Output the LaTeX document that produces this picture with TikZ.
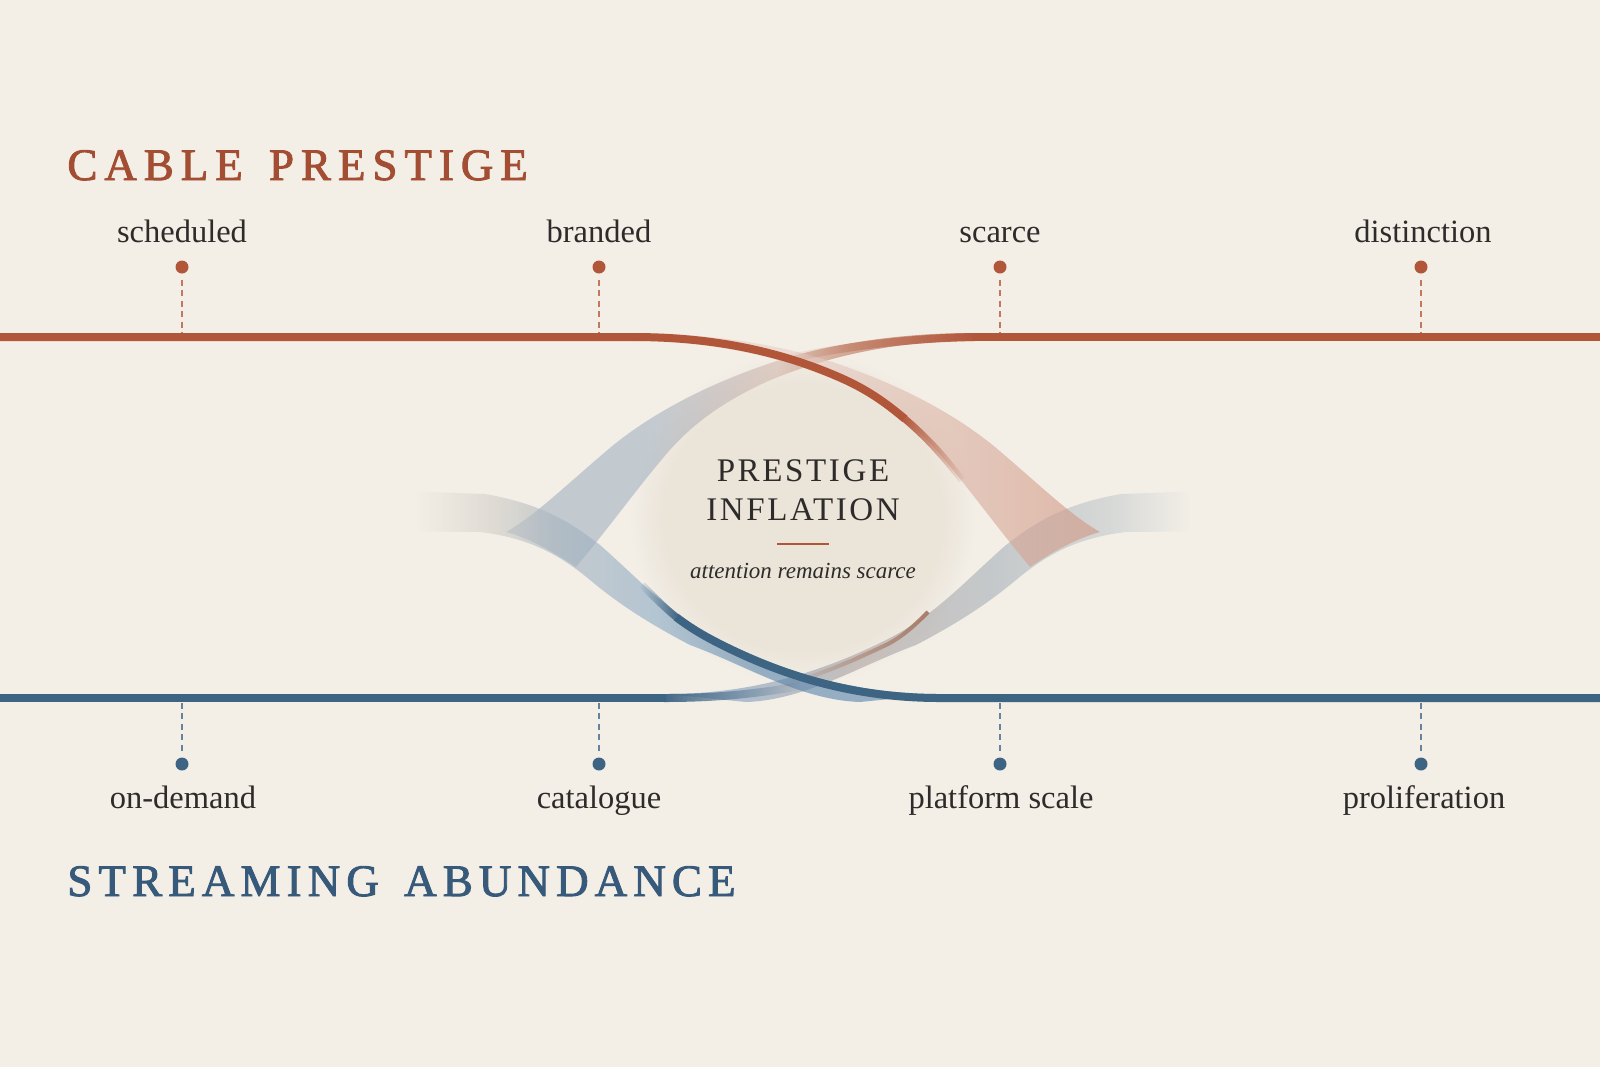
\documentclass[tikz,border=0pt]{standalone}
\usepackage{fontspec}
\setmainfont{Liberation Serif}
\newfontfamily\titlefont[LetterSpace=15.5,FakeBold=2]{Liberation Serif}
\newfontfamily\titlefontb[LetterSpace=13.6,FakeBold=2]{Liberation Serif}
\newfontfamily\capsfont[LetterSpace=8]{Liberation Serif}
\usetikzlibrary{fadings}
\definecolor{bgc}{RGB}{243,239,231}
\definecolor{lensc}{RGB}{235,228,217}
\definecolor{redc}{RGB}{178,86,58}
\definecolor{redt}{RGB}{163,78,50}
\definecolor{bluec}{RGB}{62,100,132}
\definecolor{bluet}{RGB}{55,90,122}
\definecolor{inkc}{RGB}{46,44,42}
\definecolor{brownc}{RGB}{168,124,104}
% band colours
\definecolor{r1a}{RGB}{231,207,199}
\definecolor{r1b}{RGB}{218,174,159}
\definecolor{r1c}{RGB}{208,147,126}
\definecolor{r2a}{RGB}{162,178,194}
\definecolor{r2b}{RGB}{182,178,182}
\definecolor{r2c}{RGB}{211,184,173}
\definecolor{r2d}{RGB}{188,116,88}
\definecolor{r2e}{RGB}{180,95,68}
\definecolor{b2a}{RGB}{208,205,198}
\definecolor{b2b}{RGB}{168,180,190}
\definecolor{b2c}{RGB}{138,169,196}
\definecolor{b2d}{RGB}{88,132,171}
\definecolor{b1a}{RGB}{130,157,188}
\definecolor{b1b}{RGB}{171,161,159}
\definecolor{b1c}{RGB}{166,176,185}
\definecolor{b1d}{RGB}{196,202,205}
\pgfdeclarehorizontalshading{rone}{100bp}{color(0bp)=(r1a); color(25bp)=(r1a); color(42bp)=(r1a); color(60bp)=(r1b); color(75bp)=(r1c); color(100bp)=(r1c)}
\pgfdeclarehorizontalshading{rtwo}{100bp}{color(0bp)=(r2a); color(40bp)=(r2a); color(46bp)=(r2b); color(54bp)=(r2c); color(62bp)=(r2d); color(75bp)=(r2e); color(100bp)=(r2e)}
\pgfdeclarehorizontalshading{btwo}{100bp}{color(0bp)=(bgc); color(29bp)=(bgc); color(36bp)=(b2a); color(41bp)=(b2b); color(50bp)=(b2c); color(59bp)=(b2d); color(100bp)=(b2d)}
\pgfdeclarehorizontalshading{bone}{100bp}{color(0bp)=(b1a); color(32bp)=(b1a); color(42bp)=(b1b); color(54bp)=(b1c); color(64bp)=(b1d); color(71bp)=(bgc); color(100bp)=(bgc)}
\tikzfading[name=fadeR, left color=transparent!0, right color=transparent!100]
\tikzfading[name=fadeL, left color=transparent!100, right color=transparent!0]
\tikzset{
  band/.style={fill opacity=0.6},
  lab/.style={font=\fontsize{16.25}{19}\selectfont, text=inkc, inner sep=0pt, anchor=base},
  dotR/.style={circle, fill=redc, inner sep=0pt, minimum size=6.5pt},
  dotB/.style={circle, fill=bluec, inner sep=0pt, minimum size=6.5pt},
  dashR/.style={draw=redc!80, line width=0.65pt, dash pattern=on 3pt off 2.2pt},
  dashB/.style={draw=bluec!80, line width=0.65pt, dash pattern=on 3pt off 2.2pt},
  titleR/.style={font=\titlefont\fontsize{22.5}{27}\selectfont, text=redt, inner sep=0pt, anchor=base west},
  titleB/.style={font=\titlefontb\fontsize{22.5}{27}\selectfont, text=bluet, inner sep=0pt, anchor=base west},
  capsc/.style={font=\capsfont\fontsize{16.5}{20}\selectfont, text=inkc, inner sep=0pt, anchor=base},
}
\begin{document}
\begin{tikzpicture}[x=0.5pt,y=-0.5pt]
\fill[bgc] (0,0) rectangle (1600,1067);
\useasboundingbox (0,0) rectangle (1600,1067);

% subtle lens interior (soft)
\fill[lensc, path fading=circle with fuzzy edge 20 percent] (803,518) ellipse (172 and 165);

% R2 band (top right -> left)
\shade[shading=rtwo, band]
 (973,333) .. controls (906,333) and (841,342) .. (786,358) .. controls (716,380) and (656,410) .. (611,447) .. controls (566,485) and (536,515) .. (506,532) .. controls (528,538) and (551,550) .. (576,567) .. controls (611,525) and (636,490) .. (663,458) .. controls (686,430) and (716,405) .. (766,382) .. controls (836,352) and (906,341) .. (973,341) -- cycle;

% B1 band (bottom left -> right tail)
\shade[shading=bone, band]
 (666,694) .. controls (746,694) and (816,675) .. (886,640) .. controls (936,615) and (966,580) .. (1006,545) .. controls (1026,530) and (1056,505) .. (1121,494) -- (1236,490) -- (1236,531) -- (1126,532) .. controls (1076,538) and (1046,555) .. (1016,580) .. controls (986,605) and (956,624) .. (916,645) .. controls (861,665) and (806,700) .. (746,702) -- cycle;

% B2 band (bottom right -> left tail)
\shade[shading=btwo, band]
 (940,694) .. controls (860,694) and (790,675) .. (720,640) .. controls (670,615) and (640,580) .. (600,545) .. controls (580,530) and (550,505) .. (485,494) -- (370,490) -- (370,531) -- (480,532) .. controls (530,538) and (560,555) .. (590,580) .. controls (620,605) and (650,624) .. (690,645) .. controls (745,665) and (800,700) .. (860,702) -- cycle;

% R1 band (top left -> right)
\shade[shading=rone, band]
 (633,333) .. controls (700,333) and (765,342) .. (820,358) .. controls (890,380) and (950,410) .. (995,447) .. controls (1040,485) and (1070,515) .. (1100,532) .. controls (1078,538) and (1055,550) .. (1030,567) .. controls (995,525) and (970,490) .. (943,458) .. controls (920,430) and (890,405) .. (840,382) .. controls (770,352) and (700,341) .. (633,341) -- cycle;

% lines: cable prestige
\draw[redc, line width=4pt] (973,337) -- (1600,337);
\draw[redc, line width=4pt, path fading=fadeL] (975,337) .. controls (915,338) and (855,345) .. (790,358);
\draw[redc, line width=4pt] (0,337) -- (633,337) .. controls (700,337) and (771,347) .. (841,378) .. controls (866,389) and (885,402) .. (905,419);
\draw[redc, line width=3.6pt, path fading=fadeR] (905,419) .. controls (925,436) and (942,454) .. (962,480);

% lines: streaming abundance
\draw[bluec, line width=4pt] (0,698) -- (666,698);
\draw[bluec, line width=4pt, path fading=fadeR] (664,698) .. controls (710,698) and (750,695) .. (800,686);
\draw[brownc, line width=2pt, path fading=fadeL] (780,686) .. controls (820,675) and (850,662) .. (888,644) .. controls (903,636) and (915,625) .. (928,612);
\draw[bluec, line width=4pt] (1600,698) -- (940,698) .. controls (860,698) and (790,679) .. (722,645) .. controls (700,634) and (688,626) .. (676,617);
\draw[bluec, line width=3.6pt, path fading=fadeL] (642,585) .. controls (655,598) and (665,608) .. (676,617);

% top markers
\node[dotR] (d1) at (182,267) {};
\node[dotR] (d2) at (599,267) {};
\node[dotR] (d3) at (1000,267) {};
\node[dotR] (d4) at (1421,267) {};
\coordinate (l1) at (182,333);
\coordinate (l2) at (599,333);
\coordinate (l3) at (1000,333);
\coordinate (l4) at (1421,333);
\draw[dashR, shorten <=3pt] (d1) -- (l1);
\draw[dashR, shorten <=3pt] (d2) -- (l2);
\draw[dashR, shorten <=3pt] (d3) -- (l3);
\draw[dashR, shorten <=3pt] (d4) -- (l4);
\node[lab] (t1) at (182,242) {scheduled};
\node[lab] (t2) at (599,242) {branded};
\node[lab] (t3) at (1000,242) {scarce};
\node[lab] (t4) at (1423,242) {distinction};

% bottom markers
\node[dotB] (e1) at (182,764) {};
\node[dotB] (e2) at (599,764) {};
\node[dotB] (e3) at (1000,764) {};
\node[dotB] (e4) at (1421,764) {};
\coordinate (m1) at (182,703);
\coordinate (m2) at (599,703);
\coordinate (m3) at (1000,703);
\coordinate (m4) at (1421,703);
\draw[dashB, shorten >=3pt] (m1) -- (e1);
\draw[dashB, shorten >=3pt] (m2) -- (e2);
\draw[dashB, shorten >=3pt] (m3) -- (e3);
\draw[dashB, shorten >=3pt] (m4) -- (e4);
\node[lab] (b1) at (183,808) {on-demand};
\node[lab] (b2) at (599,808) {catalogue};
\node[lab] (b3) at (1001,808) {platform scale};
\node[lab] (b4) at (1424,808) {proliferation};

% titles
\node[titleR] (cable) at (67,180) {CABLE \hspace{4pt}PRESTIGE};
\node[titleB] (stream) at (67,896) {STREAMING \hspace{4pt}ABUNDANCE};

% centre
\node[capsc] (c1) at (803,481) {PRESTIGE};
\node[capsc] (c2) at (803,520) {INFLATION};
\coordinate (ra) at (777,544);
\coordinate (rb) at (829,544);
\draw[redc, line width=1pt] (ra) -- (rb);
\node[font=\itshape\fontsize{11.5}{14}\selectfont, text=inkc, inner sep=0pt, anchor=base] (c3) at (803,578) {attention remains scarce};
\end{tikzpicture}
\end{document}
